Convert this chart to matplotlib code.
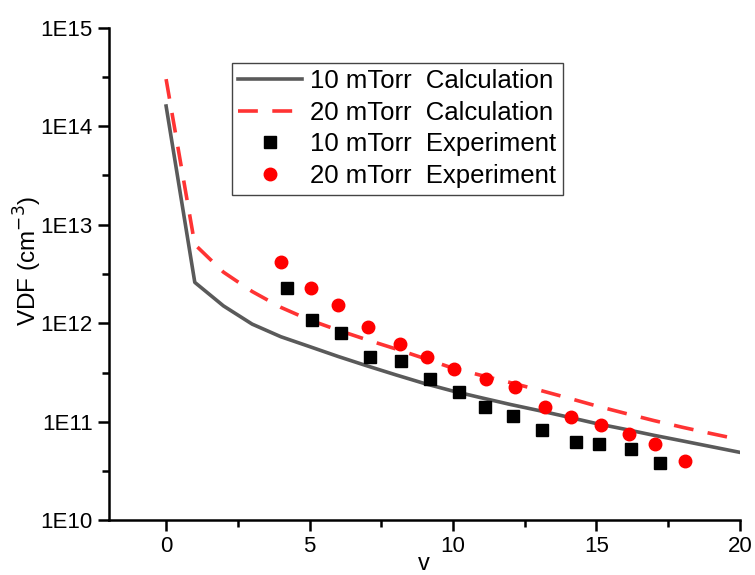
import numpy as np
import matplotlib.pyplot as plt
from matplotlib.ticker import FixedLocator, FixedFormatter, MultipleLocator

plt.rcParams['font.family'] = ['Liberation Sans', 'DejaVu Sans']

# calculated curves (integer v)
v_calc = [0, 1, 2, 3, 4, 5, 6, 7, 8, 9, 10, 11, 12, 13, 14, 15, 16, 17, 18, 19, 20]
calc_10 = [1.6e14, 2.6e12, 1.5e12, 9.8e11, 7.3e11, 5.8e11, 4.6e11, 3.7e11, 3.0e11, 2.45e11,
           2.05e11, 1.75e11, 1.5e11, 1.3e11, 1.12e11, 9.6e10, 8.4e10, 7.3e10, 6.4e10, 5.6e10, 4.9e10]
calc_20 = [3.0e14, 6.3e12, 3.3e12, 2.1e12, 1.45e12, 1.08e12, 8.5e11, 6.8e11, 5.5e11, 4.4e11,
           3.5e11, 2.95e11, 2.5e11, 2.1e11, 1.75e11, 1.45e11, 1.22e11, 1.03e11, 8.8e10, 7.6e10, 6.6e10]

# experiment
v_exp10 = [4.2, 5.1, 6.1, 7.1, 8.2, 9.2, 10.2, 11.1, 12.1, 13.1, 14.3, 15.1, 16.2, 17.2]
exp_10 = [2.3e12, 1.08e12, 7.9e11, 4.5e11, 4.15e11, 2.75e11, 2.0e11, 1.4e11, 1.15e11,
          8.3e10, 6.2e10, 6.0e10, 5.3e10, 3.8e10]
v_exp20 = [4.0, 5.05, 6.0, 7.05, 8.15, 9.1, 10.05, 11.15, 12.15, 13.2, 14.1, 15.15, 16.15, 17.05, 18.1]
exp_20 = [4.2e12, 2.3e12, 1.55e12, 9.1e11, 6.2e11, 4.5e11, 3.4e11, 2.75e11, 2.25e11,
          1.42e11, 1.12e11, 9.2e10, 7.5e10, 5.9e10, 4.0e10]

fig = plt.figure(figsize=(7.55, 5.75), dpi=100)
ax = fig.add_axes([0.144, 0.095, 0.836, 0.857])

ax.plot(v_calc, calc_10, color='#5a5a5a', lw=2.6, label='10 mTorr  Calculation')
ax.plot(v_calc, calc_20, color='#ff3333', lw=2.6, ls=(0, (5.5, 4)), label='20 mTorr  Calculation')
ax.plot(v_exp10, exp_10, 's', color='black', ms=8, label='10 mTorr  Experiment')
ax.plot(v_exp20, exp_20, 'o', color='red', ms=9, label='20 mTorr  Experiment')

ax.set_yscale('log')
ax.set_ylim(1e10, 1e15)
ax.set_xlim(-2, 20)

yt = [1e10, 1e11, 1e12, 1e13, 1e14, 1e15]
ax.yaxis.set_major_locator(FixedLocator(yt))
ax.yaxis.set_major_formatter(FixedFormatter(['1E10', '1E11', '1E12', '1E13', '1E14', '1E15']))
ax.yaxis.set_minor_locator(FixedLocator([10 ** (k + 0.5) for k in range(10, 15)]))
ax.yaxis.set_minor_formatter(FixedFormatter([]))
ax.xaxis.set_major_locator(MultipleLocator(5))
ax.xaxis.set_minor_locator(MultipleLocator(2.5))
ax.xaxis.set_major_formatter(plt.FuncFormatter(lambda x, p: '%d' % x))

for s in ['top', 'right']:
    ax.spines[s].set_visible(False)
for s in ['left', 'bottom']:
    ax.spines[s].set_linewidth(1.8)
ax.tick_params(which='major', direction='out', length=8, width=1.8, labelsize=16)
ax.tick_params(which='minor', direction='out', length=5, width=1.8)

ax.set_xlabel('v', fontsize=17, labelpad=-3)
ax.set_ylabel('VDF (cm$^{-3}$)', fontsize=17.5)
ax.yaxis.set_label_coords(-0.103, 0.526)

leg = ax.legend(loc='upper left', bbox_to_anchor=(0.195, 0.929), fontsize=18.5,
                frameon=True, fancybox=False, edgecolor='#444444', framealpha=1,
                handlelength=2.5, labelspacing=0.3, borderpad=0.25, handletextpad=0.3,
                borderaxespad=0)
leg.get_frame().set_linewidth(1.0)

fig.savefig('out.png', dpi=100)
